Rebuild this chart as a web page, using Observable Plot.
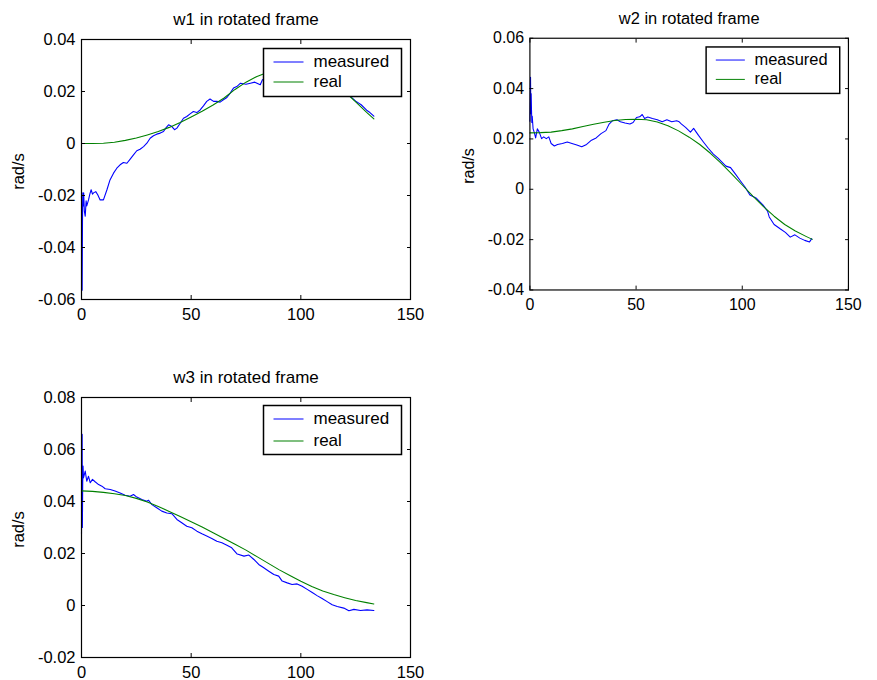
<!DOCTYPE html>
<html>
<head>
<meta charset="utf-8">
<script src="https://cdn.jsdelivr.net/npm/d3@7"></script>
<script src="https://cdn.jsdelivr.net/npm/@observablehq/plot@0.6"></script>
<style>
  html, body { margin: 0; padding: 0; background: #fff; }
  #wrap { position: relative; width: 877px; height: 680px; background: #fff; }
  .panel { position: absolute; }
</style>
</head>
<body>
<div id="wrap"></div>
<script>
// ---------- data ----------
const titles = ["w1 in rotated frame", "w2 in rotated frame", "w3 in rotated frame"];
const legendLabels = ["measured", "real"];
const yLabel = "rad/s";
const xTicks = [0, 50, 100, 150];
const xDomain = [0, 150];

const w1YDomain = [-0.06, 0.04];
const w1YTicks = [-0.06, -0.04, -0.02, 0, 0.02, 0.04];
const w1MeasT = [0, 0.3, 0.45, 0.6, 0.8, 1.0, 1.3, 1.7, 2.1, 2.4, 3.2, 3.8, 4.4, 5.0, 5.5, 6.5, 7.4, 8.5, 10, 11.6, 13, 14.6, 16.1, 17.6, 19.1, 20.7, 22.2, 23.7, 25.2, 26.7, 28.3, 29.8, 31.3, 32.8, 34.3, 35.9, 37.4, 38.4, 39.7, 41.2, 42.4, 43.5, 45, 46.5, 48, 49.5, 51, 52.6, 54.1, 55.6, 57.1, 58.6, 60.2, 61.7, 63.2, 64.7, 66.3, 67.8, 69.3, 70.8, 72.5, 75, 77, 79, 81.5, 82.5, 85, 90, 95, 100, 105, 110, 115, 120, 122.6, 125, 127.5, 130, 131.5, 133.3];
const w1Meas = [-0.020, -0.0564, -0.030, -0.019, -0.024, -0.019, -0.026, -0.028, -0.022, -0.024, -0.0217, -0.0195, -0.0178, -0.0195, -0.019, -0.0185, -0.0197, -0.0217, -0.0217, -0.0178, -0.014, -0.0114, -0.0095, -0.0082, -0.0073, -0.0076, -0.006, -0.0044, -0.0028, -0.0022, -0.0012, 0.0001, 0.002, 0.003, 0.0036, 0.004, 0.0046, 0.0059, 0.0072, 0.0065, 0.0053, 0.0059, 0.0078, 0.0097, 0.0104, 0.0114, 0.0123, 0.0119, 0.0129, 0.0145, 0.0162, 0.0171, 0.0162, 0.0162, 0.0159, 0.0168, 0.0177, 0.0194, 0.0213, 0.0219, 0.0232, 0.0228, 0.0232, 0.0236, 0.0226, 0.0245, 0.0255, 0.0268, 0.0276, 0.0274, 0.0265, 0.0248, 0.0224, 0.0196, 0.0181, 0.0163, 0.0149, 0.0128, 0.0119, 0.0105];
const w1RealT = [0, 5, 10, 15, 20, 25, 30, 35, 40, 45, 50, 55, 60, 65, 70, 75, 80, 85, 90, 95, 100, 105, 110, 115, 120, 125, 130, 133.3];
const w1Real = [0, 0, 0.0001, 0.0005, 0.0012, 0.0021, 0.0033, 0.0046, 0.0062, 0.0081, 0.0102, 0.0124, 0.0148, 0.0175, 0.0208, 0.0236, 0.0258, 0.0274, 0.0286, 0.0291, 0.0290, 0.0281, 0.0263, 0.0236, 0.0200, 0.0160, 0.0120, 0.0095];

const w2YDomain = [-0.04, 0.06];
const w2YTicks = [-0.04, -0.02, 0, 0.02, 0.04, 0.06];
const w2MeasT = [0, 0.3, 0.45, 0.6, 0.75, 0.9, 1.1, 1.5, 2.0, 2.7, 3.5, 4.4, 5.5, 6.5, 7.7, 8.9, 10, 11.5, 13, 15.3, 17.6, 19.8, 22.1, 24.4, 26.7, 29, 31.2, 33.5, 35.8, 37.3, 38.8, 41, 42.6, 44.8, 47.1, 48.6, 50.2, 51.7, 52.9, 54, 55.5, 57.7, 60, 62.3, 64.5, 66.8, 69.1, 70.3, 71.4, 73.3, 75.6, 77.1, 79.4, 81.7, 84, 86.4, 88.6, 92.3, 94.5, 96.8, 99, 101.3, 103.6, 106.7, 109.7, 111.9, 112.7, 115, 118, 120.3, 122.6, 124.8, 127.1, 129.4, 131.7, 132.7];
const w2Meas = [0.027, 0.0445, 0.030, 0.038, 0.0317, 0.0265, 0.029, 0.024, 0.0227, 0.0204, 0.024, 0.0227, 0.0201, 0.0208, 0.0201, 0.0208, 0.0182, 0.0172, 0.0178, 0.0182, 0.0188, 0.0182, 0.0176, 0.0169, 0.0178, 0.0195, 0.0204, 0.0221, 0.0233, 0.0259, 0.0272, 0.0276, 0.0268, 0.0263, 0.0259, 0.0265, 0.0285, 0.0288, 0.0297, 0.0281, 0.0287, 0.0281, 0.0276, 0.0268, 0.0276, 0.0268, 0.0272, 0.0268, 0.0259, 0.0246, 0.0227, 0.0242, 0.0214, 0.0188, 0.0163, 0.0140, 0.0124, 0.0092, 0.0086, 0.006, 0.0035, 0.0009, -0.0023, -0.0036, -0.0062, -0.0087, -0.0110, -0.0140, -0.0158, -0.0171, -0.019, -0.0181, -0.0194, -0.0203, -0.0209, -0.0196];
const w2RealT = [0, 5, 10, 15, 20, 25, 30, 35, 40, 45, 50, 55, 60, 65, 70, 75, 80, 85, 90, 95, 100, 105, 110, 115, 120, 125, 130, 133];
const w2Real = [0.0224, 0.0225, 0.0227, 0.0233, 0.0240, 0.0249, 0.0258, 0.0266, 0.0273, 0.0277, 0.0278, 0.0276, 0.0267, 0.0252, 0.0232, 0.0207, 0.0178, 0.0143, 0.0104, 0.0061, 0.0017, -0.0027, -0.0069, -0.0107, -0.0140, -0.0166, -0.0187, -0.0199];

const w3YDomain = [-0.02, 0.08];
const w3YTicks = [-0.02, 0, 0.02, 0.04, 0.06, 0.08];
const w3MeasT = [0, 0.3, 0.4, 0.55, 0.7, 0.9, 1.7, 2.4, 3.2, 4, 5, 6.2, 7.8, 9.3, 10.8, 13.1, 15.3, 17.6, 19.9, 22.2, 23.7, 25.2, 27.5, 29.8, 30.5, 32.1, 34.3, 36.6, 38.9, 41.2, 43.5, 45.7, 48, 50.3, 52.6, 54.9, 57.1, 59.4, 61.7, 64, 66.3, 68.5, 71, 74.1, 76.3, 78.6, 80.8, 83.1, 85.4, 87.7, 89.9, 91.5, 93.8, 96, 98.3, 100.6, 102.9, 105.2, 107.4, 109.7, 112, 114.3, 116.6, 119.6, 121.9, 124.2, 127.2, 130.2, 133.3];
const w3Meas = [0.0273, 0.0658, 0.030, 0.047, 0.0536, 0.0491, 0.0517, 0.0478, 0.0497, 0.0472, 0.0485, 0.0476, 0.0465, 0.0459, 0.0449, 0.0446, 0.044, 0.0433, 0.0424, 0.042, 0.0427, 0.0417, 0.0408, 0.0401, 0.0405, 0.0388, 0.0376, 0.0363, 0.0356, 0.0353, 0.0331, 0.0318, 0.0305, 0.0299, 0.0286, 0.0276, 0.0267, 0.0258, 0.0247, 0.0241, 0.0232, 0.0222, 0.0198, 0.019, 0.0194, 0.0177, 0.0158, 0.0145, 0.0132, 0.0119, 0.0113, 0.0094, 0.0087, 0.0081, 0.0083, 0.0074, 0.0062, 0.005, 0.0038, 0.0027, 0.0015, 0.0003, -0.0004, -0.001, -0.002, -0.0015, -0.0019, -0.0017, -0.0019];
const w3RealT = [0, 5, 10, 15, 20, 25, 30, 35, 40, 45, 50, 55, 60, 65, 70, 75, 80, 85, 90, 95, 100, 105, 110, 115, 120, 125, 130, 133.3];
const w3Real = [0.0441, 0.0439, 0.0435, 0.0430, 0.0423, 0.0412, 0.0398, 0.0381, 0.0362, 0.0342, 0.0322, 0.0302, 0.0280, 0.0258, 0.0236, 0.0213, 0.0188, 0.0163, 0.0138, 0.0115, 0.0093, 0.0073, 0.0056, 0.0042, 0.0030, 0.0019, 0.0011, 0.0006];

const colors = { measured: "#0000ff", real: "#008000" };

// ---------- drawing ----------
const W = 440, H = 330;
const M = { left: 81, right: 30, top: 39, bottom: 31 };
const frameW = W - M.left - M.right, frameH = H - M.top - M.bottom;
const fontFamily = "'Liberation Sans', Arial, Helvetica, sans-serif";

function fmtY(d) { return d === 0 ? "0" : d.toFixed(2); }

function panel({title, measT, measV, realT, realV, yDomain, yTicks, left, top, legTop, row1, row2}) {
  const meas = measT.map((t, i) => ({t, v: measV[i]}));
  const real = realT.map((t, i) => ({t, v: realV[i]}));
  const legBoxL = 182, legBoxR = 9, legBoxB = 203;
  const swL = 192, swR = frameW - 222;
  const swatch = (y, c) => Plot.frame({fill: c, stroke: null, insetLeft: swL, insetRight: swR, insetTop: y, insetBottom: frameH - y - 1});
  const chart = Plot.plot({
    width: W, height: H,
    marginLeft: M.left, marginRight: M.right, marginTop: M.top, marginBottom: M.bottom,
    style: {fontFamily, fontSize: "16.5px", background: "#fff", overflow: "visible", color: "#000"},
    x: {domain: xDomain},
    y: {domain: yDomain},
    marks: [
      Plot.line(meas, {x: "t", y: "v", stroke: colors.measured, strokeWidth: 1.1}),
      Plot.line(real, {x: "t", y: "v", stroke: colors.real, strokeWidth: 1.1}),
      Plot.frame({stroke: "#000", strokeWidth: 1.2}),
      // tick labels
      Plot.axisX(xTicks, {anchor: "bottom", tickSize: 0, tickPadding: 9, tickFormat: d => String(d), label: null}),
      Plot.axisY(yTicks, {anchor: "left", tickSize: 0, tickPadding: 6, tickFormat: fmtY, label: null}),
      // inward ticks on all four sides
      Plot.axisX(xTicks, {anchor: "bottom", tickSize: 4, dy: -4, tickFormat: () => "", label: null}),
      Plot.axisX(xTicks, {anchor: "top", tickSize: 4, dy: 4, tickFormat: () => "", label: null}),
      Plot.axisY(yTicks, {anchor: "left", tickSize: 4, dx: 4, tickFormat: () => "", label: null}),
      Plot.axisY(yTicks, {anchor: "right", tickSize: 4, dx: -4, tickFormat: () => "", label: null}),
      // title and y label
      Plot.text([title], {text: d => d, frameAnchor: "top", lineAnchor: "middle", textAnchor: "middle", dy: -20, fontSize: 17}),
      Plot.text([yLabel], {text: d => d, frameAnchor: "left", lineAnchor: "middle", textAnchor: "middle", dx: -63, dy: 2, rotate: -90, fontSize: 16.5}),
      // legend
      Plot.frame({fill: "#fff", stroke: "#000", strokeWidth: 1.5, insetLeft: legBoxL, insetRight: legBoxR, insetTop: legTop, insetBottom: legBoxB}),
      swatch(row1, colors.measured),
      swatch(row2, colors.real),
      Plot.text([legendLabels[0]], {text: d => d, frameAnchor: "top-left", lineAnchor: "middle", dx: 232, dy: row1, textAnchor: "start", fontSize: 17}),
      Plot.text([legendLabels[1]], {text: d => d, frameAnchor: "top-left", lineAnchor: "middle", dx: 232, dy: row2, textAnchor: "start", fontSize: 17})
    ]
  });
  const div = document.createElement("div");
  div.className = "panel";
  div.style.left = left + "px";
  div.style.top = top + "px";
  div.appendChild(chart);
  document.getElementById("wrap").appendChild(div);
}

panel({title: titles[0], measT: w1MeasT, measV: w1Meas, realT: w1RealT, realV: w1Real, yDomain: w1YDomain, yTicks: w1YTicks, left: 0, top: 0, legTop: 9, row1: 22, row2: 42});
panel({title: titles[1], measT: w2MeasT, measV: w2Meas, realT: w2RealT, realV: w2Real, yDomain: w2YDomain, yTicks: w2YTicks, left: 451, top: 0, legTop: 9, row1: 22, row2: 42});
panel({title: titles[2], measT: w3MeasT, measV: w3Meas, realT: w3RealT, realV: w3Real, yDomain: w3YDomain, yTicks: w3YTicks, left: 0, top: 358, legTop: 8, row1: 21, row2: 43});
</script>
</body>
</html>
